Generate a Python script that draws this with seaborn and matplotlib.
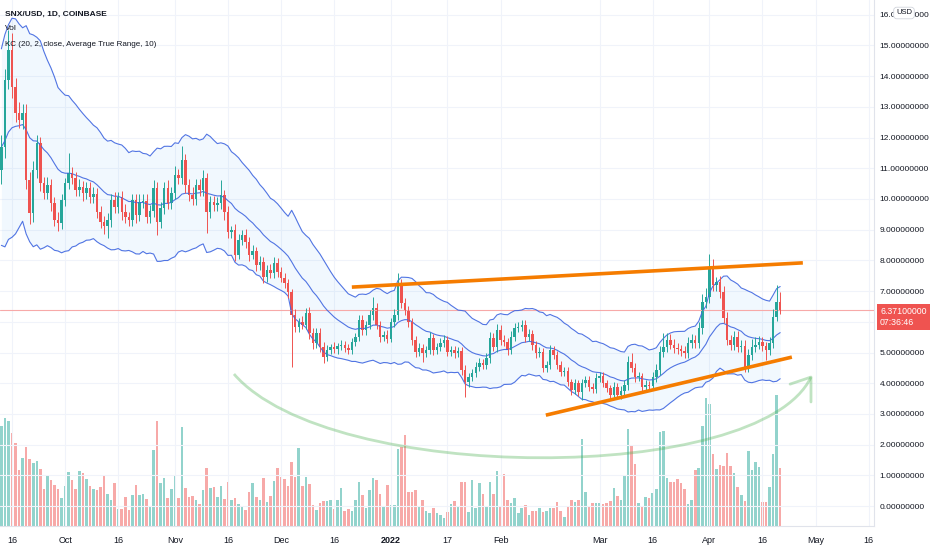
import numpy as np
import pandas as pd
import matplotlib
matplotlib.use("Agg")
import matplotlib.pyplot as plt
from matplotlib.path import Path
from matplotlib.patches import PathPatch
import seaborn as sns

# daily SNX/USD candles, 13 Sep 2021 -> 21 Apr 2022 (open = previous close)
start_date = "2021-09-13"
first_open = 10.94
closes = [
    11.69, 13.88, 14.85, 13.65, 12.80, 12.57, 12.80, 10.62, 9.54, 10.94,
    11.82, 10.52, 10.20, 10.46, 9.87, 9.32, 9.22, 9.97, 10.52, 10.85,
    10.68, 10.29, 10.40, 10.20, 10.35, 10.07, 10.15, 9.58, 9.25, 9.12,
    9.30, 9.97, 9.74, 10.07, 9.58, 9.41, 9.32, 9.97, 9.48, 9.90,
    9.95, 9.41, 9.60, 10.36, 9.25, 9.71, 10.36, 9.87, 10.20, 10.78,
    10.68, 11.27, 10.46, 10.13, 10.00, 10.45, 10.30, 10.68, 9.58, 9.90,
    9.80, 9.87, 10.13, 9.58, 8.92, 8.98, 8.18, 8.66, 8.83, 8.60,
    8.18, 8.30, 7.85, 7.95, 7.46, 7.69, 7.59, 7.92, 7.62, 7.43,
    7.26, 6.97, 6.22, 5.83, 5.99, 5.90, 6.29, 5.64, 5.31, 5.64,
    5.18, 4.85, 5.08, 5.18, 5.10, 5.20, 5.26, 5.15, 5.08, 5.34,
    5.50, 6.06, 5.73, 5.90, 6.22, 6.45, 5.90, 5.50, 5.58, 5.45,
    5.99, 6.22, 7.20, 6.61, 6.38, 5.99, 5.41, 5.02, 5.15, 4.98,
    5.08, 5.47, 5.08, 5.18, 5.31, 5.41, 5.02, 5.08, 4.98, 5.05,
    4.43, 4.04, 4.20, 4.33, 4.53, 4.66, 4.59, 4.82, 5.47, 5.18,
    5.73, 5.41, 5.34, 5.08, 5.50, 5.80, 5.83, 5.90, 5.50, 5.60,
    5.24, 4.98, 5.02, 4.50, 4.59, 5.08, 4.92, 4.59, 4.36, 4.40,
    4.04, 3.78, 4.00, 3.71, 4.00, 4.10, 3.88, 3.80, 4.17, 4.25,
    4.00, 3.84, 3.62, 3.88, 3.62, 3.75, 3.94, 4.69, 4.50, 4.20,
    4.22, 3.88, 3.94, 3.90, 4.20, 4.43, 5.02, 5.18, 5.40, 5.25,
    5.15, 5.10, 5.05, 4.98, 5.30, 5.41, 5.30, 5.80, 6.64, 6.81,
    7.75, 7.20, 7.30, 6.97, 6.12, 5.41, 5.24, 5.50, 5.18, 5.20,
    4.50, 4.92, 5.18, 5.25, 5.35, 5.20, 5.08, 5.30, 6.16, 6.64,
    6.37,
]
wick_up = [
    .40, .35, .65, .55, .30, .35, .30, .30, .25, .30,
    .25, .20, .20, .25, .20, .20, .25, .20, .15, .65,
    .20, .20, .25, .20, .20, .20, .25, .20, .20, .20,
    .25, .20, .25, .15, .20, .25, .15, .20, .20, .25,
    .20, .20, .20, .25, .20, .20, .20, .25, .20, .30,
    .20, .45, .20, .20, .25, .20, .20, .25, .15, .20,
    .20, .20, .50, .15, .20, .15, .20, .20, .15, .20,
    .15, .20, .15, .20, .15, .15, .20, .20, .15, .15,
    .15, .15, .10, .20, .15, .20, .15, .20, .15, .15,
    .15, .15, .15, .10, .15, .12, .15, .10, .12, .12,
    .12, .15, .15, .12, .15, .35, .15, .12, .12, .15,
    .15, .20, .40, .20, .15, .15, .12, .12, .15, .12,
    .12, .20, .12, .12, .15, .15, .12, .12, .12, .12,
    .12, .15, .12, .12, .15, .15, .12, .15, .20, .15,
    .20, .15, .15, .12, .20, .15, .15, .15, .15, .15,
    .12, .12, .15, .12, .12, .15, .12, .12, .12, .12,
    .12, .10, .15, .12, .15, .15, .12, .12, .15, .12,
    .12, .12, .10, .15, .12, .15, .15, .20, .30, .15,
    .15, .12, .15, .12, .15, .20, .20, .45, .25, .20,
    .20, .15, .15, .15, .20, .20, .15, .20, .25, .30,
    .45, .30, .15, .20, .20, .20, .15, .20, .20, .20,
    .20, .20, .25, .25, .20, .15, .15, .20, .25, .56,
    .33,
]
wick_down = [
    .45, .35, .30, .35, .30, .25, .30, .30, .35, .30,
    .25, .25, .20, .20, .25, .20, .25, .20, .20, .20,
    .20, .20, .20, .25, .20, .20, .20, .20, .20, .25,
    .40, .20, .20, .20, .25, .20, .20, .20, .25, .20,
    .20, .20, .20, .20, .42, .20, .20, .20, .20, .20,
    .20, .20, .25, .20, .20, .20, .20, .20, .69, .20,
    .20, .20, .20, .25, .20, .20, .20, .15, .15, .20,
    .20, .15, .20, .15, .20, .15, .15, .15, .15, .15,
    .15, .20, 1.69, .15, .15, .15, .15, .20, .20, .15,
    .15, .20, .12, .12, .12, .15, .12, .12, .12, .12,
    .12, .12, .15, .15, .12, .15, .15, .15, .12, .15,
    .12, .15, .15, .15, .15, .15, .15, .15, .12, .29,
    .12, .12, .15, .12, .12, .12, .12, .12, .15, .12,
    .15, .49, .15, .12, .12, .12, .12, .12, .15, .12,
    .15, .15, .12, .15, .12, .12, .12, .12, .15, .12,
    .15, .15, .12, .15, .12, .12, .12, .12, .12, .12,
    .12, .15, .12, .12, .25, .12, .12, .12, .12, .12,
    .12, .12, .12, .12, .10, .12, .12, .15, .15, .15,
    .12, .15, .12, .12, .12, .15, .15, .15, .15, .15,
    .15, .15, .15, .15, .15, .15, .15, .15, .20, .20,
    .20, .20, .20, .20, .15, .15, .15, .15, .15, .15,
    .15, .15, .15, .15, .15, .15, .33, .15, .15, .15,
    .12,
]
# volume, millions
volume = [
    10.0, 10.8, 10.5, 9.3, 8.3, 5.6, 6.8, 7.9, 6.7, 6.3,
    6.5, 5.7, 3.7, 5.1, 4.6, 4.1, 3.7, 2.8, 4.0, 5.4,
    4.6, 3.7, 5.5, 5.3, 4.7, 4.0, 3.7, 3.6, 3.9, 5.0,
    3.2, 2.6, 4.3, 1.7, 1.7, 2.9, 1.6, 3.1, 4.1, 3.1,
    3.2, 2.7, 2.0, 7.6, 10.5, 4.3, 4.8, 2.8, 3.7, 5.0,
    2.8, 9.9, 3.8, 2.9, 3.0, 2.6, 2.2, 3.6, 5.8, 3.8,
    3.9, 2.9, 4.0, 2.7, 4.4, 2.6, 2.8, 2.2, 2.0, 1.6,
    3.4, 4.3, 2.9, 2.6, 4.8, 2.4, 3.0, 4.5, 5.8, 4.9,
    4.7, 4.0, 6.4, 4.9, 7.8, 4.0, 4.9, 4.2, 2.1, 1.6,
    2.3, 2.5, 2.5, 2.6, 1.7, 2.6, 3.8, 1.5, 1.7, 1.5,
    2.6, 4.4, 3.1, 1.8, 3.6, 4.8, 4.6, 3.2, 2.0, 4.1,
    2.1, 2.1, 7.7, 7.9, 9.1, 3.4, 3.4, 3.6, 2.0, 2.6,
    1.5, 1.3, 1.8, 1.3, 1.1, 0.8, 1.4, 2.2, 2.5, 2.0,
    4.4, 4.4, 1.4, 4.6, 1.8, 4.3, 3.2, 2.0, 4.4, 3.2,
    5.5, 1.9, 5.2, 2.6, 2.3, 2.8, 1.3, 1.8, 2.1, 1.1,
    1.5, 1.5, 1.8, 1.4, 1.5, 1.8, 1.8, 2.4, 1.5, 0.9,
    1.9, 2.6, 2.4, 2.6, 8.7, 3.4, 2.0, 2.3, 2.3, 2.3,
    2.2, 2.3, 2.5, 3.8, 3.0, 2.6, 5.1, 9.7, 8.1, 6.2,
    2.3, 2.0, 2.9, 2.8, 3.3, 3.7, 9.4, 9.5, 4.8, 4.4,
    4.4, 4.7, 4.3, 3.7, 2.2, 2.6, 5.6, 5.8, 10.0, 12.8,
    12.2, 7.2, 5.7, 6.1, 6.0, 7.3, 6.0, 5.3, 3.9, 3.1,
    2.5, 7.5, 5.6, 6.4, 5.9, 2.4, 2.4, 3.9, 7.2, 13.1,
    5.8,
]

tick_dates = ["2021-09-16", "2021-10-01", "2021-10-16", "2021-11-01", "2021-11-16",
              "2021-12-01", "2021-12-16", "2022-01-01", "2022-01-17", "2022-02-01",
              "2022-03-01", "2022-03-16", "2022-04-01", "2022-04-16", "2022-05-01",
              "2022-05-16"]
tick_labels = ["16", "Oct", "16", "Nov", "16", "Dec", "16", "2022", "17", "Feb",
               "Mar", "16", "Apr", "16", "May", "16"]
price_ticks = list(range(0, 17))
last_price = 6.371
countdown = "07:36:46"

# hand drawn objects (day offset from start, price)
upper_line_x = [99.0, 226.4]
upper_line_y = [7.13, 7.92]
lower_line_x = [153.8, 223.3]
lower_line_y = [2.96, 4.85]
arc_x = [65.7, 92.8, 214.3, 228.7]
arc_y = [4.30, 0.68, 0.68, 4.20]
arrow_x = [222.8, 228.7, 228.7]
arrow_y = [3.97, 4.20, 3.39]

UP = "#26a69a"
DOWN = "#ef5350"
TEXT = "#131722"
NUM_FONT = ["Liberation Sans", "DejaVu Sans"]

df = pd.DataFrame({"close": closes, "wu": wick_up, "wd": wick_down, "volume": volume})
df["date"] = pd.date_range(start_date, periods=len(df), freq="D")
df["day"] = (df["date"] - df["date"].iloc[0]).dt.days
df["open"] = df["close"].shift(1).fillna(first_open)
df["high"] = df[["open", "close"]].max(axis=1) + df["wu"]
df["low"] = df[["open", "close"]].min(axis=1) - df["wd"]
df["up"] = df["close"] >= df["open"]

# Keltner channel: EMA 20 of close, 2 x ATR(10)
prev = df["close"].shift(1).fillna(df["open"])
tr = pd.concat([df["high"] - df["low"], (df["high"] - prev).abs(), (df["low"] - prev).abs()], axis=1).max(axis=1)
atr = tr.ewm(alpha=1 / 10, adjust=False).mean()
df["basis"] = df["close"].ewm(span=20, adjust=False).mean()
df["upper"] = df["basis"] + 2 * atr
df["lower"] = df["basis"] - 2 * atr

sns.set_theme(style="white")
plt.rcParams["font.family"] = ["Liberation Sans", "DejaVu Sans"]

fig = plt.figure(figsize=(9.32, 5.5), dpi=100)
ax = fig.add_axes([0, 24 / 550, 874 / 932, 526 / 550])
vax = ax.twinx()
ax.set_zorder(vax.get_zorder() + 1)
ax.patch.set_visible(False)

# volume
vcol = np.where(df["up"], "#92d3cc", "#f7a9a8")
vax.bar(df["day"], df["volume"], width=0.72, color=vcol, linewidth=0)
vax.set_ylim(0, 52.6)
vax.set_yticks([])
for s in vax.spines.values():
    s.set_visible(False)

# channel
ax.fill_between(df["day"], df["lower"], df["upper"], color="#2196f3", alpha=0.06, linewidth=0)
for col in ["upper", "basis", "lower"]:
    sns.lineplot(data=df, x="day", y=col, ax=ax, color="#3f66e0", linewidth=0.8, alpha=0.9)

# candles
ccol = np.where(df["up"], UP, DOWN)
ax.vlines(df["day"], df["low"], df["high"], colors=ccol, linewidth=0.7)
body_lo = df[["open", "close"]].min(axis=1)
body_h = (df["close"] - df["open"]).abs().clip(lower=0.03)
ax.bar(df["day"], body_h, bottom=body_lo, width=0.7, color=ccol, linewidth=0)

# drawings
ax.axhline(last_price, color="#f7a9a8", linewidth=0.8, zorder=1)
ax.plot(upper_line_x, upper_line_y, color="#f57c00", linewidth=2.6, solid_capstyle="butt")
ax.plot(lower_line_x, lower_line_y, color="#f57c00", linewidth=2.6, solid_capstyle="butt")
arc = Path(list(zip(arc_x, arc_y)), [Path.MOVETO, Path.CURVE4, Path.CURVE4, Path.CURVE4])
ax.add_patch(PathPatch(arc, fill=False, edgecolor="#4caf50", alpha=0.35, linewidth=2.0))
ax.plot(arrow_x, arrow_y, color="#4caf50", alpha=0.35, linewidth=2.0)

# axes
ax.set_xlim(-0.39, 246.5)
ax.set_ylim(-0.65, 16.48)
tick_pos = [(pd.Timestamp(t) - df["date"].iloc[0]).days for t in tick_dates]
ax.set_xticks(tick_pos)
ax.set_xticklabels(tick_labels, fontsize=6.5, color=TEXT)
for lab in ax.get_xticklabels():
    if lab.get_text() == "2022":
        lab.set_fontweight("bold")
ax.yaxis.tick_right()
ax.set_yticks(price_ticks)
# the 6.0 level sits under the last-price tag
ax.set_yticklabels(["" if v == 6 else f"{v:.8f}" for v in price_ticks], fontsize=6,
                   color=TEXT, family=NUM_FONT)
ax.tick_params(axis="y", length=0, pad=4)
ax.tick_params(axis="x", length=0, pad=7)
ax.grid(True, color="#f0f3fa", linewidth=0.8)
ax.set_axisbelow(True)
ax.set_xlabel("")
ax.set_ylabel("")
for s in ["top", "left"]:
    ax.spines[s].set_visible(False)
for s in ["right", "bottom"]:
    ax.spines[s].set_color("#e0e3eb")
    ax.spines[s].set_linewidth(0.8)

# last price tag
ax.text(1.0 + 6 / 874, last_price - 0.22, f"{last_price:.8f}\n{countdown}",
        transform=ax.get_yaxis_transform(), ha="left", va="center", fontsize=6.3,
        color="white", family=NUM_FONT, linespacing=1.2,
        bbox=dict(boxstyle="square,pad=0.4", fc=DOWN, ec="none"), clip_on=False)

# header
fig.text(5 / 932, 1 - 14 / 550, "SNX/USD, 1D, COINBASE", fontsize=6, fontweight="bold", color=TEXT, va="center")
fig.text(5 / 932, 1 - 29 / 550, "Vol", fontsize=6, color=TEXT, va="center")
fig.text(5 / 932, 1 - 44 / 550, "KC (20, 2, close, Average True Range, 10)", fontsize=5.8, color=TEXT, va="center")
fig.text(904 / 932, 1 - 13 / 550, "USD", fontsize=5.5, color=TEXT, ha="center", va="center",
         bbox=dict(boxstyle="round,pad=0.3,rounding_size=0.4", fc="white", ec="#d1d4dc", lw=0.6))

fig.savefig("out.png", dpi=100)
